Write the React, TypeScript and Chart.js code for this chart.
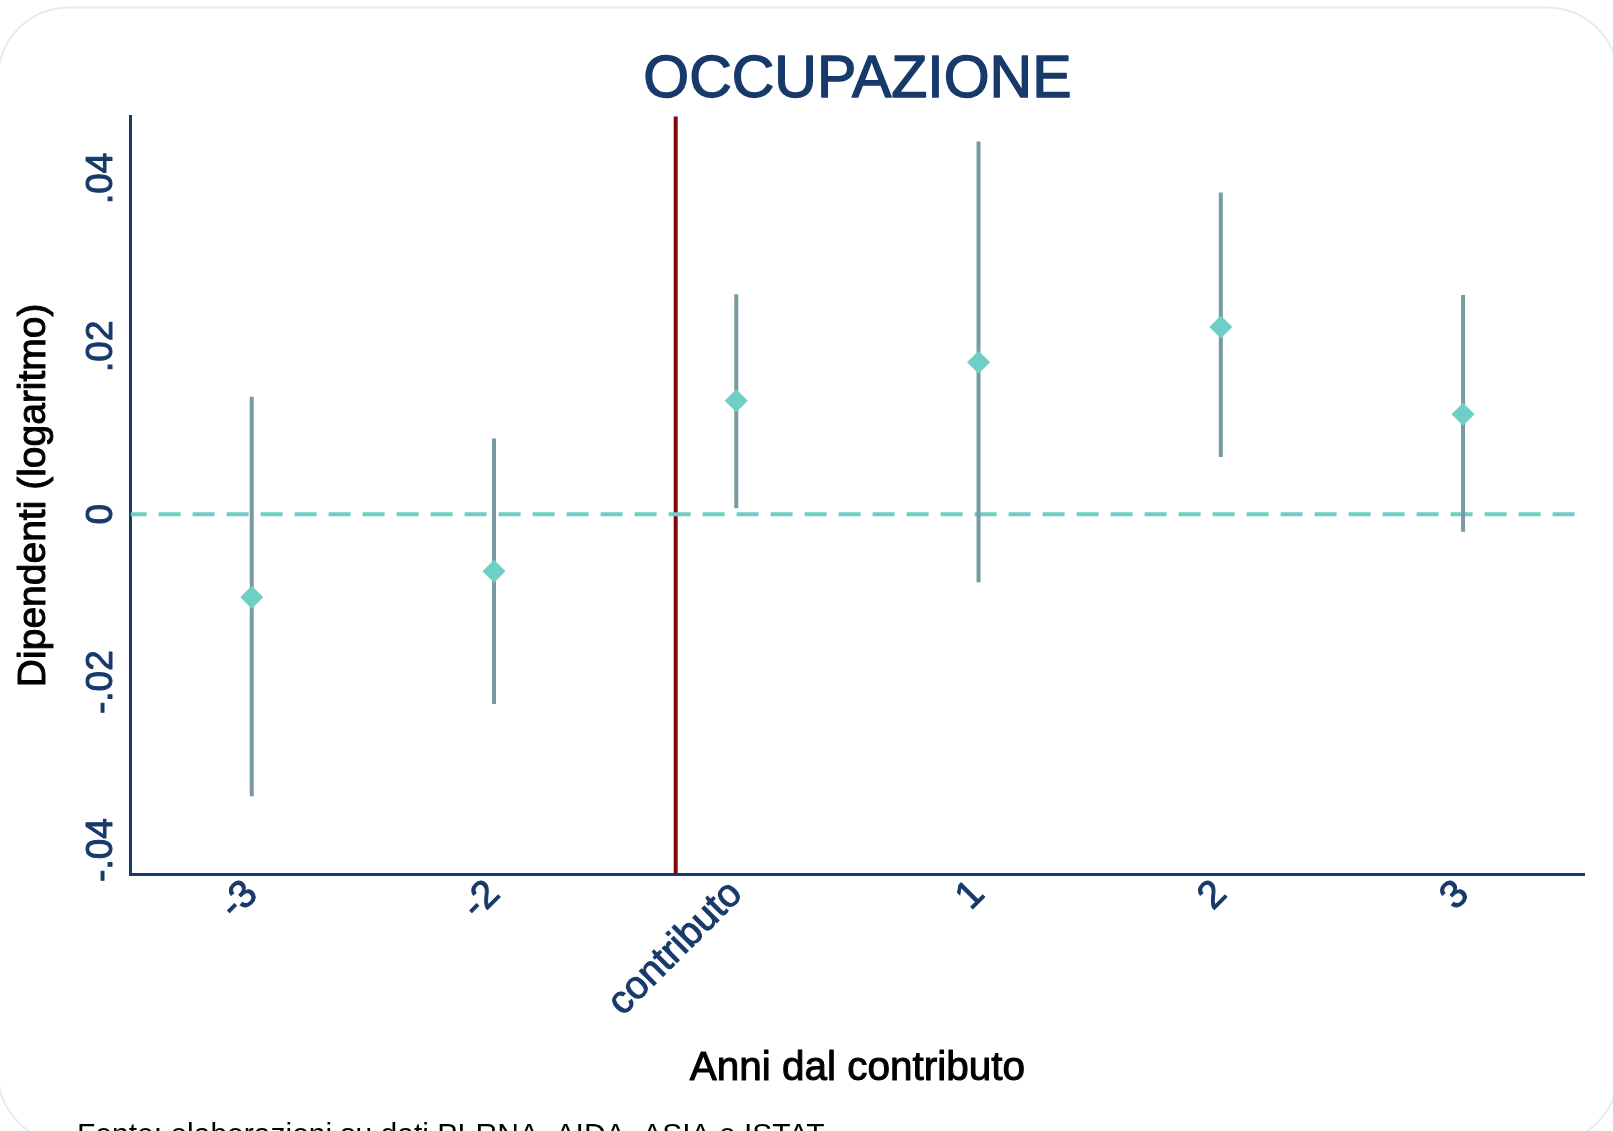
import React, { useEffect, useRef } from 'react';
import { Chart, registerables } from 'chart.js';

Chart.register(...registerables);

// ---- data ----
const xLabels = ['-3', '-2', 'contributo', '1', '2', '3'];
const estimates = [-0.0099, -0.0068, 0.0135, 0.0181, 0.0223, 0.0119];
const upperCI = [0.014, 0.009, 0.0262, 0.0444, 0.0383, 0.0261];
const lowerCI = [-0.0336, -0.0226, 0.0007, -0.0081, 0.0068, -0.0021];
const yTickValues = [-0.04, -0.02, 0, 0.02, 0.04];
const yTickLabels = ['-.04', '-.02', '0', '.02', '.04'];
const eventLinePosition = 1.75;
const referenceLevel = 0;
const yMin = -0.0429;
const yMax = 0.0474;
const xMin = -0.5;
const xMax = 5.5;

const chartTitle = 'OCCUPAZIONE';
const xTitle = 'Anni dal contributo';
const yTitle = 'Dipendenti (logaritmo)';
const footnote = 'Fonte: elaborazioni su dati PI-RNA, AIDA, ASIA e ISTAT';

// ---- style ----
const W = 1613;
const H = 1131;
const FONT = '"Liberation Sans", Arial, sans-serif';
const NAVY = '#173a6b';
const TURQ = '#6dcfc6';
const BARCOL = '#7a9aa1';
const RED = '#870808';

function boldText(ctx: any, text: string, x: number, y: number, color: string, w: number) {
  ctx.fillStyle = color;
  ctx.strokeStyle = color;
  ctx.lineWidth = w;
  ctx.lineJoin = 'round';
  ctx.fillText(text, x, y);
  ctx.strokeText(text, x, y);
}

const decorPlugin = {
  id: 'decor',
  beforeDraw(chart: any) {
    const ctx = chart.ctx;
    ctx.save();
    ctx.fillStyle = '#ffffff';
    ctx.fillRect(0, 0, W, H);
    // card outline
    const x = -2, y = 7.5, w = 1620, h = 1136, r = 71;
    ctx.beginPath();
    ctx.moveTo(x + r, y);
    ctx.lineTo(x + w - r, y);
    ctx.arcTo(x + w, y, x + w, y + r, r);
    ctx.lineTo(x + w, y + h - r);
    ctx.arcTo(x + w, y + h, x + w - r, y + h, r);
    ctx.lineTo(x + r, y + h);
    ctx.arcTo(x, y + h, x, y + h - r, r);
    ctx.lineTo(x, y + r);
    ctx.arcTo(x, y, x + r, y, r);
    ctx.closePath();
    ctx.strokeStyle = '#e6ecee';
    ctx.lineWidth = 2;
    ctx.stroke();
    ctx.restore();
  },
  afterDraw(chart: any) {
    const ctx = chart.ctx;
    const area = chart.chartArea;
    const yScale = chart.scales.y;
    const cx = (area.left + area.right) / 2;
    ctx.save();
    // title
    ctx.font = `59px ${FONT}`;
    ctx.textAlign = 'center';
    ctx.textBaseline = 'alphabetic';
    boldText(ctx, chartTitle, cx, 96.5, NAVY, 1.4);

    // y tick labels (rotated)
    ctx.font = `37px ${FONT}`;
    yTickValues.forEach((v, i) => {
      const py = yScale.getPixelForValue(v);
      ctx.save();
      ctx.translate(112, py);
      ctx.rotate(-Math.PI / 2);
      ctx.textAlign = 'center';
      ctx.textBaseline = 'alphabetic';
      boldText(ctx, yTickLabels[i], 0, 0, NAVY, 1);
      ctx.restore();
    });

    // y title
    ctx.font = `39px ${FONT}`;
    ctx.save();
    ctx.translate(34, (area.top + area.bottom) / 2);
    ctx.rotate(-Math.PI / 2);
    ctx.textAlign = 'center';
    ctx.textBaseline = 'middle';
    boldText(ctx, yTitle, 0, 0, '#000000', 1);
    ctx.restore();

    // x title
    ctx.font = `40.5px ${FONT}`;
    ctx.textAlign = 'center';
    ctx.textBaseline = 'alphabetic';
    boldText(ctx, xTitle, cx, 1080, '#000000', 1);

    // footnote
    ctx.font = `30px ${FONT}`;
    ctx.textAlign = 'left';
    ctx.fillStyle = '#000000';
    ctx.fillText(footnote, 77, 1144);
    ctx.restore();
  },
};

export default function App() {
  const canvasRef = useRef<HTMLCanvasElement | null>(null);

  useEffect(() => {
    const canvas = canvasRef.current;
    if (!canvas) return;

    const errorBarSets = xLabels.map((_, i) => ({
      type: 'line' as const,
      data: [
        { x: i, y: lowerCI[i] },
        { x: i, y: upperCI[i] },
      ],
      borderColor: BARCOL,
      borderWidth: 4,
      borderCapStyle: 'butt',
      pointRadius: 0,
      fill: false,
      order: 1,
    }));

    const chart = new Chart(canvas, {
      type: 'line',
      data: {
        datasets: [
          {
            type: 'scatter',
            data: estimates.map((v, i) => ({ x: i, y: v })),
            pointStyle: 'rectRot',
            pointRadius: 11.5,
            pointBackgroundColor: TURQ,
            pointBorderWidth: 0,
            backgroundColor: TURQ,
            borderWidth: 0,
            showLine: false,
            order: 0,
          } as any,
          ...(errorBarSets as any[]),
          {
            type: 'line',
            data: [
              { x: xMin, y: referenceLevel },
              { x: xMax, y: referenceLevel },
            ],
            borderColor: TURQ,
            borderWidth: 4,
            borderDash: [22, 12],
            borderDashOffset: 6,
            pointRadius: 0,
            fill: false,
            order: 2,
          } as any,
          {
            type: 'line',
            data: [
              { x: eventLinePosition, y: yMin },
              { x: eventLinePosition, y: yMax },
            ],
            borderColor: RED,
            borderWidth: 4,
            pointRadius: 0,
            fill: false,
            order: 3,
          } as any,
        ],
      },
      options: {
        responsive: false,
        animation: false,
        devicePixelRatio: 1,
        events: [],
        layout: { padding: { top: 116.2, right: 28.8, left: 0, bottom: 0 } },
        plugins: {
          legend: { display: false },
          title: { display: false },
          tooltip: { enabled: false },
        },
        scales: {
          x: {
            type: 'linear',
            min: xMin,
            max: xMax,
            grid: { display: false, drawTicks: false },
            border: { display: true, color: NAVY, width: 3 },
            afterBuildTicks: (scale: any) => {
              scale.ticks = xLabels.map((_, i) => ({ value: i }));
            },
            afterFit: (scale: any) => {
              scale.height = H - 874.4;
            },
            ticks: {
              autoSkip: false,
              minRotation: 45,
              maxRotation: 45,
              padding: -3,
              color: NAVY,
              textStrokeColor: NAVY,
              textStrokeWidth: 1,
              font: { family: FONT, size: 39 },
              callback: (v: any) => xLabels[v] ?? '',
            },
          },
          y: {
            type: 'linear',
            min: yMin,
            max: yMax,
            grid: { display: false, drawTicks: false },
            border: { display: true, color: NAVY, width: 3 },
            ticks: { display: false },
            afterFit: (scale: any) => {
              scale.width = 130.6;
            },
          },
        },
      } as any,
      plugins: [decorPlugin],
    });

    return () => {
      chart.destroy();
    };
  }, []);

  return (
    <div style={{ position: 'fixed', left: 0, top: 0, width: W, height: H, background: '#fff' }}>
      <canvas ref={canvasRef} width={W} height={H} style={{ width: W, height: H, display: 'block' }} />
    </div>
  );
}
